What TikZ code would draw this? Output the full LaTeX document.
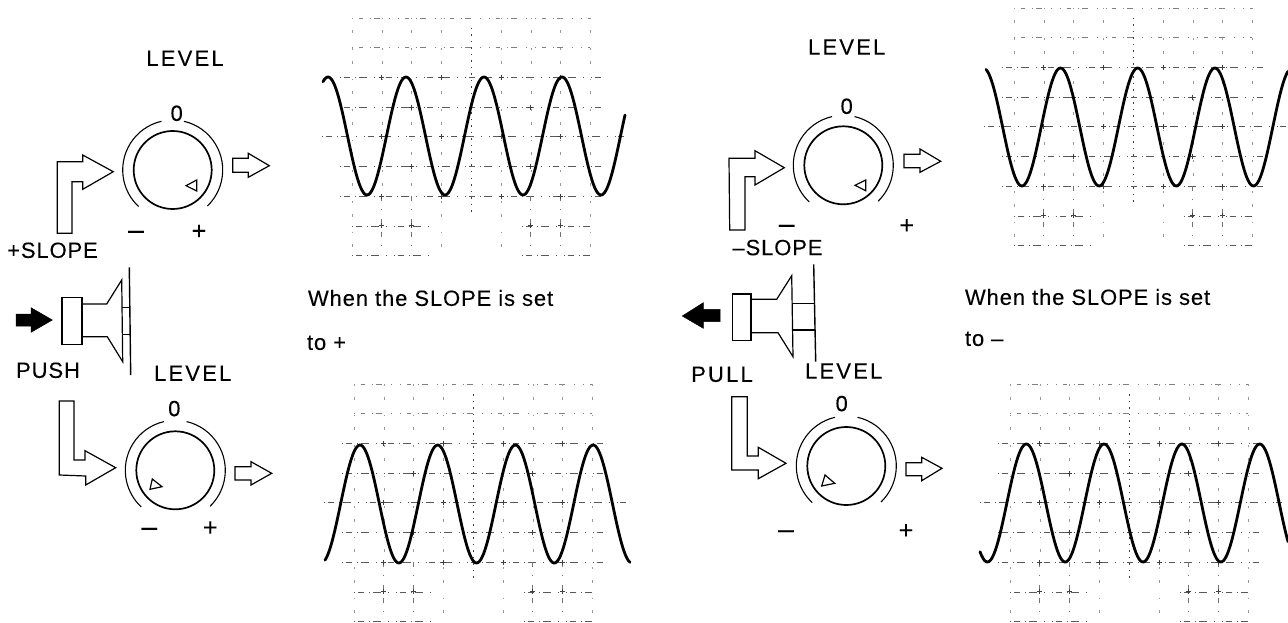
\documentclass[tikz,border=0pt]{standalone}
\usepackage{fontspec}
\setmainfont{Liberation Sans}[FakeBold=0.12]
\newfontfamily\spacedfont{Liberation Sans}[LetterSpace=10,FakeBold=0.12]
\newfontfamily\tightfont{Liberation Sans}[LetterSpace=4,FakeBold=0.12]
\tikzset{
  lab/.style={inner sep=0pt,outer sep=0pt,text height=15.7pt,text depth=0pt,font=\spacedfont\fontsize{22}{22}\selectfont},
  labt/.style={inner sep=0pt,outer sep=0pt,text height=15.7pt,text depth=0pt,font=\tightfont\fontsize{22}{22}\selectfont},
  sentence/.style={inner sep=0pt,outer sep=0pt,anchor=west,text height=15.7pt,text depth=0pt,font=\tightfont\fontsize{22}{22}\selectfont},
  sym/.style={inner sep=0pt,outer sep=0pt,text height=15pt,text depth=0pt,font=\fontsize{25}{25}\selectfont},
  dashsym/.style={inner sep=0pt,outer sep=0pt,text height=10pt,text depth=-5.5pt,font=\fontsize{28}{28}\selectfont},
  outline/.style={line width=1.2pt,black,line join=miter},
  knobring/.style={line width=1.7pt,black},
  scalearc/.style={line width=1.1pt,black},
  wave/.style={line width=2.8pt,black,line cap=round},
  gridt/.style={line width=.6pt,black!50,dash pattern=on .8pt off 6pt on 4pt off 7pt on 1pt off 3pt on 6pt off 9pt on 1pt off 8pt},
  gridh/.style={line width=.7pt,black!65,dash pattern=on .8pt off 3pt on 6pt off 5pt on 1pt off 3pt on 8pt off 7pt on 1pt off 7pt},
  gridv/.style={line width=.7pt,black!55,dash pattern=on 5pt off 8pt on 1pt off 9pt on 6pt off 7pt},
  gridc/.style={line width=1pt,black!75,dash pattern=on 1.5pt off 5pt},
  gridf/.style={line width=.6pt,black!40,dash pattern=on 1.5pt off 11pt on 3pt off 15pt},
  tick/.style={line width=.9pt,black!75},
}
\newcommand\gratic[2]{%
\begin{scope}[shift={(#1,#2)}]
  \foreach \r in {0,1} \draw[gridt] (0,\r*29.7) -- (238,\r*29.7);
  \foreach \r in {2,3,5,6} \draw[gridh] (-12,\r*29.7) -- (252,\r*29.7);
  \draw[gridh,line width=.9pt] (-30,4*29.7) -- (272,4*29.7);
  \foreach \r in {7,8} {\draw[gridh] (0,\r*29.7) -- (82,\r*29.7); \draw[gridh] (170,\r*29.7) -- (238,\r*29.7);}
  \foreach \c in {0,3,5,8} \draw[gridf] (\c*29.8,0) -- (\c*29.8,237);
  \foreach \c in {1,2,6,7} {\draw[gridf] (\c*29.8,0) -- (\c*29.8,175); \draw[gridv] (\c*29.8,178) -- (\c*29.8,237);}
  \draw[gridc] (4*29.8,10) -- (4*29.8,195);
  \foreach \c in {1,3,5,7} \foreach \r in {2,4,6} {
    \draw[tick] (\c*29.8-2.5,\r*29.7) -- (\c*29.8+2.5,\r*29.7);
    \draw[tick] (\c*29.8,\r*29.7-2.5) -- (\c*29.8,\r*29.7+2.5);}
  \foreach \c in {2,6} \foreach \r in {3,5} {
    \draw[tick] (\c*29.8-2.5,\r*29.7) -- (\c*29.8+2.5,\r*29.7);
    \draw[tick] (\c*29.8,\r*29.7-2.5) -- (\c*29.8,\r*29.7+2.5);}
  \foreach \c in {1,2,6,7} {
    \draw[tick] (\c*29.8-2.5,7*29.7) -- (\c*29.8+2.5,7*29.7);
    \draw[tick] (\c*29.8,7*29.7-2.5) -- (\c*29.8,7*29.7+2.5);}
\end{scope}}
\newcommand\knobdial[1]{%
\begin{scope}[shift={(#1)}]
  \draw[knobring] (0,0) circle[radius=39];
  \draw[scalearc] (-103:50) arc[start angle=-103,end angle=-227,radius=50];
  \draw[scalearc] (-77:50) arc[start angle=-77,end angle=46,radius=50];
\end{scope}}
\begin{document}
\begin{tikzpicture}[x=1pt,y=-1pt]
\useasboundingbox (0,0) rectangle (1288,623);
% graticules
\gratic{352}{18}
\gratic{354}{384}
\gratic{1014}{8}
\gratic{1010}{384}
% traces
\draw[wave] plot[domain=323:625,samples=220] (\x,{136-59*cos(4.61538*(\x-328))});
\draw[wave] plot[domain=325:630,samples=220] (\x,{504-59*cos(4.63320*(\x-360))});
\draw[wave] plot[domain=986:1288,samples=220] (\x,{127-59*cos(4.66321*(\x-1060.5))});
\draw[wave] plot[domain=980:1288,samples=220] (\x,{503-59*cos(4.62725*(\x-1026.3))});
% dials
\knobdial{172.7,170}
\knobdial{843.3,165.3}
\knobdial{175.3,470.3}
\knobdial{846.3,466}
% dial pointers
\draw[outline] (186,185.7) -- (196.7,180) -- (196.7,191) -- cycle;
\draw[outline] (855,185.3) -- (865.7,180) -- (865.7,190.7) -- cycle;
\draw[outline] (150,489.3) -- (152.3,479) -- (162,486.7) -- cycle;
\draw[outline] (821.7,486) -- (825,475) -- (834.7,483.3) -- cycle;
% input arrows
\draw[outline] (57.3,233.3) -- (57.3,161.7) -- (82.7,161.7) -- (82.7,155) -- (113.3,171.7) -- (82.7,189.3) -- (82.7,181.7) -- (72,181.7) -- (72,233.3) -- cycle;
\draw[outline] (729.7,230) -- (729,158.3) -- (755,158.3) -- (755,150.7) -- (784.3,167.7) -- (755,185) -- (755,176.7) -- (745,176.7) -- (745,230) -- cycle;
\draw[outline] (59.3,475) -- (59.3,401) -- (74,401) -- (74,460) -- (85,460) -- (85,450.7) -- (115.7,467.7) -- (85.7,485) -- (85.7,476) -- cycle;
\draw[outline] (731.7,396.7) -- (747.3,396.7) -- (747.3,456) -- (758.3,456) -- (758.3,447.3) -- (786,463.3) -- (758.3,478.7) -- (758.3,470) -- (731.7,470) -- cycle;
% output arrows
\draw[outline] (232.7,158.3) -- (248.3,158.3) -- (248.3,153.3) -- (269.3,165.7) -- (248.3,177.3) -- (248.3,172.3) -- (232.7,172.3) -- cycle;
\draw[outline] (904,154.3) -- (920,154.3) -- (920,149) -- (940.7,161.3) -- (920,172.3) -- (920,167.7) -- (904,167.7) -- cycle;
\draw[outline] (235,466.7) -- (251,466.7) -- (251,461.7) -- (271.7,473.3) -- (251,485) -- (251,480) -- (235,480) -- cycle;
\draw[outline] (906,462.7) -- (921.7,462.7) -- (921.7,457.3) -- (942,468.3) -- (921.7,480.7) -- (921.7,475.7) -- (906,475.7) -- cycle;
% push switch
\draw[outline,line width=1.4pt] (129.3,267.3) -- (130.7,375);
\draw[outline] (62,297.7) rectangle (82,344.3);
\draw[outline] (82,304) -- (106.7,304) -- (121.7,280) -- (122.7,361.7) -- (107.3,336.7) -- (82,336.7);
\draw[outline] (122,307.7) -- (130,307.7) (122.5,334.3) -- (130.2,334.3);
\draw[fill=black,draw=black,line width=.5pt] (16,314) -- (31,314) -- (31,307.7) -- (52.3,320) -- (31,332.3) -- (31,326) -- (16,326) -- cycle;
% pull switch
\draw[outline,line width=1.4pt] (813.7,264.3) -- (815.7,361.7);
\draw[outline] (732.3,294) rectangle (751,340.3);
\draw[outline] (751,299.3) -- (776.7,299.3) -- (791.7,275.7) -- (793,356.7) -- (778,332.7) -- (751,332.7);
\draw[outline] (792.3,303.3) -- (814,303.3) (793,330) -- (814.7,330);
\draw[fill=black,draw=black,line width=.5pt] (720,309.3) -- (703.3,309.3) -- (703.3,302.7) -- (682.3,316) -- (703.3,328.3) -- (703.3,321.7) -- (720,321.7) -- cycle;
% labels
\node[lab] (levelA) at (185,58) {LEVEL};
\node[lab] (levelB) at (846.7,46.7) {LEVEL};
\node[lab] (levelC) at (192.7,373) {LEVEL};
\node[lab] (levelD) at (843.7,370.7) {LEVEL};
\node[lab] (zeroA) at (176.7,113) {0};
\node[lab] (zeroB) at (846.7,106) {0};
\node[lab] (zeroC) at (174.3,408.3) {0};
\node[lab] (zeroD) at (841.7,403.3) {0};
\node[dashsym] (minusA) at (136,234) {–};
\node[dashsym] (minusB) at (786.7,228) {–};
\node[dashsym] (minusC) at (149.3,531) {–};
\node[dashsym] (minusD) at (786,533.3) {–};
\node[sym] (plusA) at (199,231.7) {+};
\node[sym] (plusB) at (906.7,226) {+};
\node[sym] (plusC) at (210.3,528.3) {+};
\node[sym] (plusD) at (906,531) {+};
\node[labt] (slopeP) at (52.5,250) {+SLOPE};
\node[labt] (slopeM) at (777.5,247.3) {–SLOPE};
\node[labt] (push) at (48,370) {PUSH};
\node[lab] (pull) at (722,374) {PULL};
\node[sentence] (whenA) at (308,298) {When the SLOPE is set};
\node[sentence] (toA) at (307,342) {to +};
\node[sentence] (whenB) at (965,297) {When the SLOPE is set};
\node[sentence] (toB) at (965,338) {to –};
\end{tikzpicture}
\end{document}
